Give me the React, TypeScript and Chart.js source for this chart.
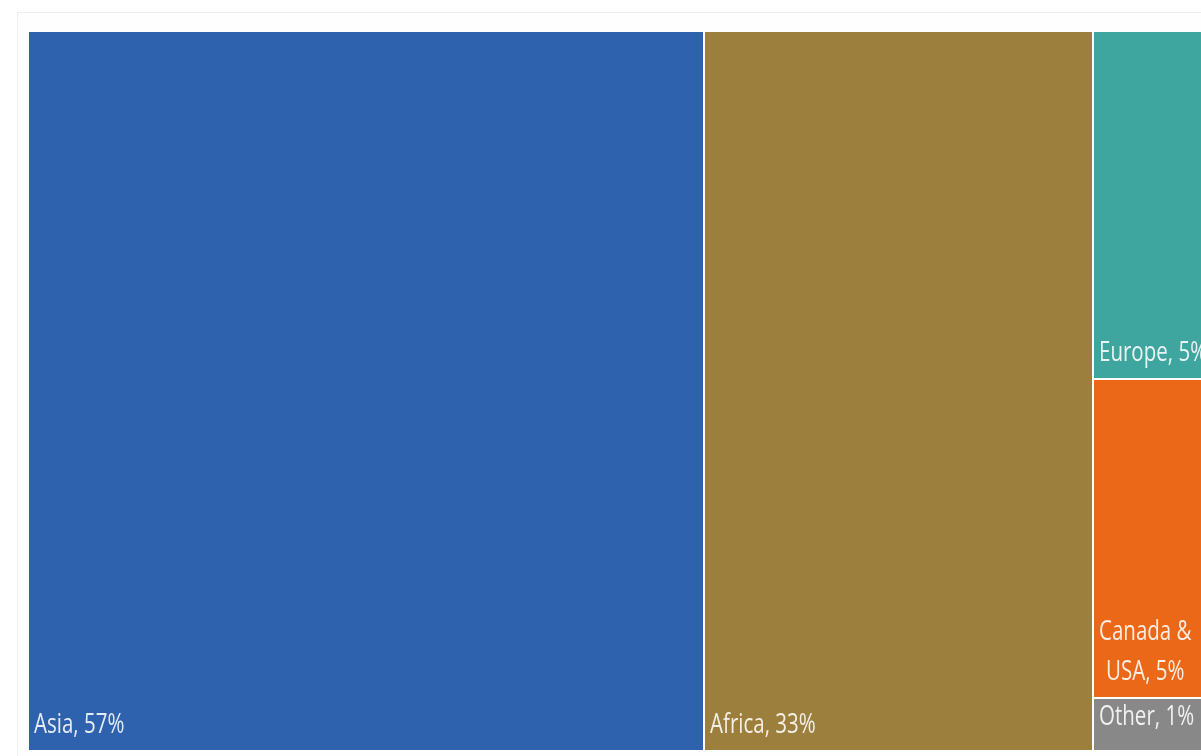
import React, { useEffect, useRef } from "react";
import { Chart, registerables } from "chart.js";

Chart.register(...registerables);

const labels = ["Asia", "Africa", "Europe", "Canada & USA", "Other"];
const values = [56.6, 32.6, 5.35, 4.9, 0.81];
const columns = [0, 1, 2, 2, 2];
const colors = ["#2E61AE", "#9C7F3C", "#3EA69E", "#EC6819", "#888888"];

const FONT = "27px 'Open Sans'";
const SCALE_X = 0.76;
const LINE_H = 40;

function wrap(ctx: CanvasRenderingContext2D, text: string, maxW: number): string[] {
  const words = text.split(" ");
  const lines: string[] = [];
  let cur = "";
  for (const w of words) {
    const t = cur ? cur + " " + w : w;
    if (ctx.measureText(t).width * SCALE_X > maxW && cur) {
      lines.push(cur);
      cur = w;
    } else cur = t;
  }
  if (cur) lines.push(cur);
  return lines;
}

const treemapPlugin = {
  id: "treemapRects",
  afterDatasetsDraw(chart: any) {
    const ctx: CanvasRenderingContext2D = chart.ctx;
    const xs = chart.scales.x;
    const ys = chart.scales.y;
    const nCols = Math.max(...columns) + 1;
    const colSums: number[] = new Array(nCols).fill(0);
    values.forEach((v, i) => (colSums[columns[i]] += v));
    const colStart: number[] = [];
    let acc = 0;
    for (let c = 0; c < nCols; c++) {
      colStart.push(acc);
      acc += colSums[c];
    }
    const colAcc: number[] = new Array(nCols).fill(0);
    ctx.save();
    values.forEach((v, i) => {
      const c = columns[i];
      const xa = xs.getPixelForValue(colStart[c]);
      const xb = xs.getPixelForValue(colStart[c] + colSums[c]);
      const ya = ys.getPixelForValue((colAcc[c] / colSums[c]) * 100);
      colAcc[c] += v;
      const yb = ys.getPixelForValue((colAcc[c] / colSums[c]) * 100);
      const left = Math.round(Math.min(xa, xb)) + 1;
      const right = Math.round(Math.max(xa, xb)) - 1;
      const top = Math.round(Math.min(ya, yb)) + 1;
      const bottom = Math.round(Math.max(ya, yb)) - 1;
      ctx.fillStyle = colors[i];
      ctx.fillRect(left, top, right - left, bottom - top);

      // label
      ctx.font = FONT;
      ctx.fillStyle = "rgba(255,255,255,0.88)";
      ctx.textBaseline = "alphabetic";
      const text = `${labels[i]}, ${Math.round(v)}%`;
      const lines = wrap(ctx, text, right - left - 12);
      const widths = lines.map((l) => ctx.measureText(l).width * SCALE_X);
      const maxW = Math.max(...widths);
      const h = bottom - top;
      let baseLast: number;
      if (h < LINE_H * 1.6) baseLast = top + 26;
      else baseLast = bottom - 17;
      const cx = left + 5 + maxW / 2;
      lines.forEach((l, k) => {
        const by = baseLast - (lines.length - 1 - k) * LINE_H;
        const lx = lines.length > 1 ? cx - widths[k] / 2 : left + 5;
        ctx.save();
        ctx.beginPath();
        ctx.rect(left, top, right - left, bottom - top);
        ctx.clip();
        ctx.translate(lx, by);
        ctx.scale(SCALE_X, 1);
        ctx.textAlign = "left";
        ctx.fillText(l, 0, 0);
        ctx.restore();
      });
    });
    ctx.restore();
  },
};

export default function App() {
  const ref = useRef<HTMLCanvasElement | null>(null);
  useEffect(() => {
    if (!ref.current) return;
    const total = values.reduce((a, b) => a + b, 0);
    const chart = new Chart(ref.current, {
      type: "scatter",
      data: { datasets: [{ data: [], pointRadius: 0 }] },
      options: {
        animation: false,
        responsive: false,
        events: [],
        layout: { padding: { left: 28, top: 31, right: 35, bottom: 5 } },
        plugins: { legend: { display: false }, tooltip: { enabled: false } },
        scales: {
          x: { type: "linear", min: 0, max: total, display: false },
          y: { type: "linear", min: 0, max: 100, reverse: true, display: false },
        },
      },
      plugins: [treemapPlugin],
    });
    return () => chart.destroy();
  }, []);
  return (
    <div
      style={{
        position: "fixed",
        left: 0,
        top: 0,
        width: 1201,
        height: 756,
        overflow: "hidden",
        background: "#ffffff",
      }}
    >
      <div
        style={{
          position: "absolute",
          left: 17,
          top: 12,
          width: 1300,
          height: 800,
          border: "1px solid #f1efec",
          background: "#fefefe",
        }}
      />
      <canvas
        ref={ref}
        width={1260}
        height={756}
        style={{ position: "absolute", left: 0, top: 0, width: 1260, height: 756 }}
      />
    </div>
  );
}
